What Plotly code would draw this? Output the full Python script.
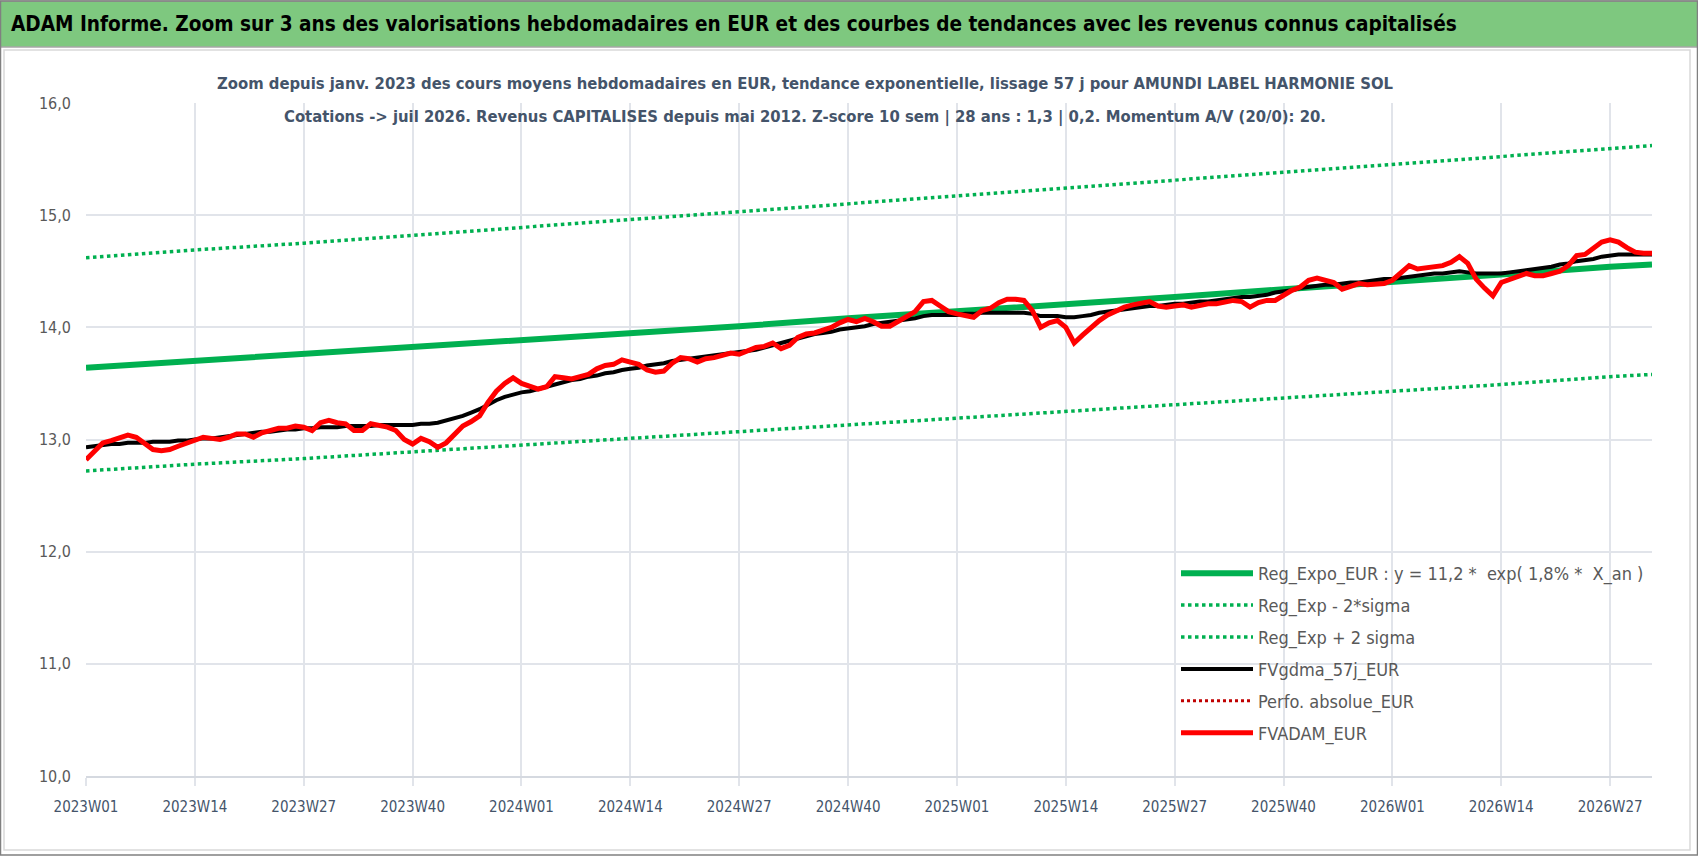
import plotly.graph_objects as go

# ---------------- data ----------------
years_weeks = [(2023, 52), (2024, 52), (2025, 52), (2026, 32)]
weeks = [f"{y}W{w:02d}" for y, n in years_weeks for w in range(1, n + 1)]
tick_labels = weeks[::13]

trend_idx = [0, 13, 26, 39, 52, 65, 78, 91, 104, 117, 130, 143, 156, 169, 182, 187]
reg_expo = [13.64, 13.70, 13.76, 13.82, 13.89, 13.95, 14.01, 14.08, 14.14, 14.21,
            14.27, 14.34, 14.40, 14.47, 14.54, 14.56]
reg_minus = [12.72, 12.78, 12.83, 12.89, 12.95, 13.01, 13.07, 13.13, 13.19, 13.25,
             13.31, 13.37, 13.43, 13.49, 13.56, 13.58]
reg_plus = [14.62, 14.69, 14.75, 14.82, 14.89, 14.96, 15.03, 15.10, 15.17, 15.24,
            15.31, 15.38, 15.45, 15.52, 15.59, 15.62]

fvgdma = [
    12.93, 12.94, 12.95, 12.96, 12.96, 12.97, 12.97, 12.97, 12.98, 12.98,
    12.98, 12.99, 12.99, 13.00, 13.01, 13.01, 13.02, 13.03, 13.04, 13.05,
    13.06, 13.07, 13.07, 13.08, 13.09, 13.09, 13.10, 13.10, 13.11, 13.11,
    13.11, 13.12, 13.12, 13.12, 13.12, 13.13, 13.13, 13.13, 13.13, 13.13,
    13.14, 13.14, 13.15, 13.17, 13.19, 13.21, 13.24, 13.27, 13.31, 13.35,
    13.38, 13.40, 13.42, 13.43, 13.45, 13.47, 13.49, 13.51, 13.53, 13.54,
    13.56, 13.57, 13.59, 13.60, 13.62, 13.63, 13.64, 13.66, 13.67, 13.68,
    13.70, 13.71, 13.72, 13.73, 13.74, 13.75, 13.76, 13.77, 13.78, 13.79,
    13.80, 13.82, 13.84, 13.86, 13.88, 13.90, 13.92, 13.94, 13.95, 13.96,
    13.98, 13.99, 14.00, 14.01, 14.03, 14.04, 14.05, 14.06, 14.07, 14.08,
    14.10, 14.11, 14.11, 14.11, 14.11, 14.12, 14.12, 14.13, 14.13, 14.13,
    14.13, 14.13, 14.13, 14.12, 14.10, 14.10, 14.10, 14.09, 14.09, 14.10,
    14.11, 14.13, 14.14, 14.15, 14.16, 14.17, 14.18, 14.19, 14.19, 14.20,
    14.21, 14.21, 14.22, 14.23, 14.23, 14.24, 14.25, 14.26, 14.27, 14.27,
    14.28, 14.29, 14.31, 14.32, 14.33, 14.35, 14.36, 14.37, 14.38, 14.38,
    14.39, 14.40, 14.40, 14.41, 14.42, 14.43, 14.43, 14.44, 14.45, 14.46,
    14.47, 14.48, 14.48, 14.49, 14.50, 14.49, 14.48, 14.48, 14.48, 14.48,
    14.49, 14.50, 14.51, 14.52, 14.53, 14.54, 14.56, 14.57, 14.59, 14.60,
    14.61, 14.63, 14.64, 14.65, 14.65, 14.65, 14.65, 14.65,
]

fvadam = [
    12.82, 12.90, 12.97, 12.99, 13.01, 13.04, 13.02, 12.97, 12.91, 12.90,
    12.91, 12.94, 12.97, 13.00, 13.02, 13.01, 13.00, 13.02, 13.05, 13.05,
    13.02, 13.06, 13.08, 13.10, 13.10, 13.12, 13.11, 13.08, 13.15, 13.17,
    13.15, 13.14, 13.08, 13.08, 13.14, 13.13, 13.11, 13.08, 13.00, 12.96,
    13.01, 12.98, 12.93, 12.97, 13.04, 13.12, 13.16, 13.21, 13.33, 13.43,
    13.50, 13.55, 13.50, 13.47, 13.45, 13.47, 13.56, 13.55, 13.54, 13.56,
    13.58, 13.63, 13.66, 13.67, 13.71, 13.69, 13.67, 13.62, 13.60, 13.61,
    13.68, 13.73, 13.72, 13.69, 13.72, 13.73, 13.75, 13.77, 13.76, 13.79,
    13.82, 13.83, 13.86, 13.81, 13.84, 13.91, 13.94, 13.95, 13.97, 14.00,
    14.04, 14.07, 14.05, 14.08, 14.05, 14.01, 14.01, 14.05, 14.09, 14.14,
    14.23, 14.24, 14.19, 14.14, 14.12, 14.11, 14.09, 14.15, 14.17, 14.22,
    14.25, 14.25, 14.24, 14.15, 14.00, 14.04, 14.06, 14.00, 13.86, 13.93,
    14.00, 14.06, 14.11, 14.15, 14.18, 14.20, 14.22, 14.23, 14.19, 14.18,
    14.19, 14.20, 14.18, 14.20, 14.21, 14.21, 14.22, 14.24, 14.23, 14.18,
    14.22, 14.24, 14.24, 14.29, 14.33, 14.36, 14.42, 14.44, 14.42, 14.40,
    14.34, 14.36, 14.39, 14.38, 14.38, 14.39, 14.42, 14.48, 14.55, 14.52,
    14.53, 14.54, 14.55, 14.58, 14.63, 14.57, 14.43, 14.35, 14.28, 14.40,
    14.43, 14.45, 14.48, 14.46, 14.46, 14.48, 14.50, 14.55, 14.64, 14.65,
    14.70, 14.76, 14.78, 14.76, 14.71, 14.67, 14.66, 14.66,
]
perfo_absolue = [None, None]

y_ticks = [10, 11, 12, 13, 14, 15, 16]

banner_title = ("ADAM Informe. Zoom sur 3 ans des valorisations hebdomadaires en EUR "
                "et des courbes de tendances avec les revenus connus capitalisés")
sub1 = ("Zoom depuis janv. 2023 des cours moyens hebdomadaires en EUR, tendance exponentielle, "
        "lissage 57 j pour AMUNDI LABEL HARMONIE SOL")
sub2 = ("Cotations -> juil 2026. Revenus CAPITALISES depuis mai 2012. Z-score 10 sem | 28 ans : "
        "1,3 | 0,2. Momentum A/V (20/0): 20.")

# ---------------- figure ----------------
FONT = "DejaVu Sans Condensed, Liberation Sans Narrow, Roboto, Noto Sans, sans-serif"
GREEN = "#00B050"
trend_x = [weeks[i] for i in trend_idx]

W, H = 1698, 856
L, R, T, B = 86, 46, 103, 80
PW, PH = W - L - R, H - T - B


def px(x):
    return (x - L) / PW


def py(y):
    return (H - B - y) / PH


fig = go.Figure()
fig.add_trace(go.Scatter(x=trend_x, y=reg_expo, mode="lines",
                         name="Reg_Expo_EUR : y = 11,2 *  exp( 1,8% *  X_an )",
                         line=dict(color=GREEN, width=6), legendgroup="a"))
fig.add_trace(go.Scatter(x=trend_x, y=reg_minus, mode="lines", name="Reg_Exp - 2*sigma",
                         line=dict(color=GREEN, width=3.5, dash="dot"), legendgroup="b"))
fig.add_trace(go.Scatter(x=trend_x, y=reg_plus, mode="lines", name="Reg_Exp + 2 sigma",
                         line=dict(color=GREEN, width=3.5, dash="dot"), legendgroup="c"))
fig.add_trace(go.Scatter(x=weeks, y=fvgdma, mode="lines", name="FVgdma_57j_EUR",
                         line=dict(color="#000000", width=4), legendgroup="d"))
fig.add_trace(go.Scatter(x=weeks[:2], y=perfo_absolue, mode="lines", name="Perfo. absolue_EUR",
                         line=dict(color="#C00000", width=3, dash="dot"), legendgroup="e"))
fig.add_trace(go.Scatter(x=weeks, y=fvadam, mode="lines", name="FVADAM_EUR",
                         line=dict(color="#FF0000", width=5), legendgroup="f"))

fig.update_layout(
    width=W, height=H,
    margin=dict(l=L, r=R, t=T, b=B),
    paper_bgcolor="white", plot_bgcolor="white",
    separators=", ",
    font=dict(family=FONT, color="#595959", size=16),
    showlegend=True,
    legend=dict(x=px(1176), y=py(555), xanchor="left", yanchor="top",
                bgcolor="rgba(255,255,255,0)", font=dict(size=18, color="#595959"),
                tracegroupgap=5.5, itemwidth=72),
    xaxis=dict(type="category", categoryorder="array", categoryarray=weeks,
               range=[0, len(weeks) - 1], tickmode="array",
               tickvals=tick_labels, ticktext=tick_labels,
               showgrid=True, gridcolor="#E1E4EA", gridwidth=1.5,
               ticks="outside", ticklen=8, tickcolor="#E1E4EA", tickwidth=1.5,
               ticklabelstandoff=8, tickfont=dict(size=15, color="#44546A"),
               showline=True, linecolor="#D5D9E0", linewidth=2,
               zeroline=False, fixedrange=True),
    yaxis=dict(range=[10, 16], tickvals=y_ticks, tickformat=".1f",
               showgrid=True, gridcolor="#E1E4EA", gridwidth=1.5,
               ticks="", ticklabelstandoff=14, tickfont=dict(size=16, color="#595959"),
               zeroline=False, showline=False, fixedrange=True),
)

# banner and frames
fig.add_shape(type="rect", xref="paper", yref="paper",
              x0=px(0), x1=px(W), y0=py(47), y1=py(1),
              fillcolor="#7EC87F", line=dict(color="#A6A6A6", width=1.5), layer="below")
fig.add_shape(type="rect", xref="paper", yref="paper",
              x0=px(4), x1=px(1690), y0=py(850), y1=py(50),
              fillcolor="rgba(0,0,0,0)", line=dict(color="#D9D9D9", width=1.5), layer="below")
fig.add_shape(type="rect", xref="paper", yref="paper",
              x0=px(0.5), x1=px(W - 0.5), y0=py(H - 1), y1=py(1),
              fillcolor="rgba(0,0,0,0)", line=dict(color="#808080", width=1.5), layer="below")

fig.add_annotation(text="<b>" + banner_title + "</b>", xref="paper", yref="paper",
                   x=px(9), y=py(24), xanchor="left", yanchor="middle",
                   showarrow=False, font=dict(size=20.6, color="#000000", family=FONT))
fig.add_annotation(text="<b>" + sub1 + "</b>", xref="paper", yref="paper",
                   x=px(805), y=py(83), xanchor="center", yanchor="middle",
                   showarrow=False, font=dict(size=16.5, color="#44546A", family=FONT))
fig.add_annotation(text="<b>" + sub2 + "</b>", xref="paper", yref="paper",
                   x=px(805), y=py(117), xanchor="center", yanchor="middle",
                   showarrow=False, font=dict(size=16.5, color="#44546A", family=FONT))

fig.write_html("out.html", config={"displayModeBar": False},
               post_script="document.body.style.margin='0';")
